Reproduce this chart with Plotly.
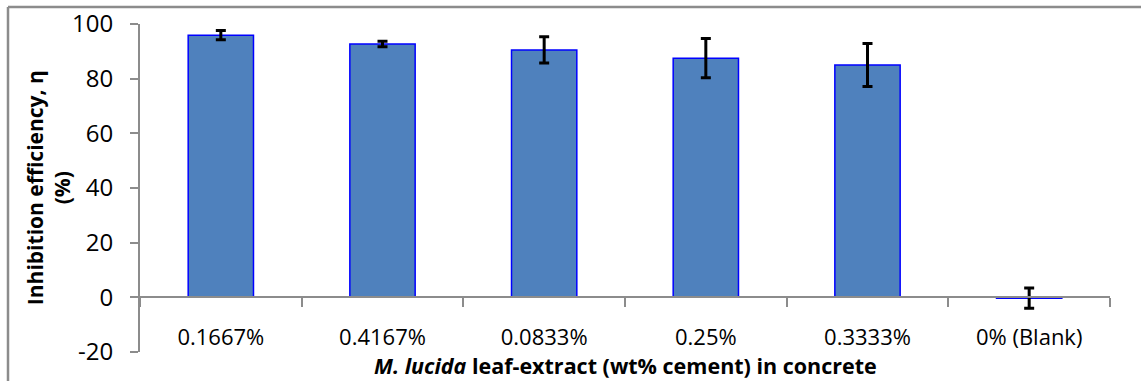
import plotly.graph_objects as go

categories = ["0.1667%", "0.4167%", "0.0833%", "0.25%", "0.3333%", "0% (Blank)"]
efficiency = [95.9, 92.7, 90.5, 87.5, 85.0, -0.3]
errors = [1.7, 1.0, 4.8, 7.2, 7.9, 3.7]
y_ticks = [-20, 0, 20, 40, 60, 80, 100]
y_tick_text = ["-20", "0", "20", "40", "60", "80", "100"]

FONT = "Open Sans"
GRAY = "#8c8c8c"

fig = go.Figure()
fig.add_trace(go.Bar(
    x=categories, y=efficiency,
    marker=dict(color="#4F81BD", line=dict(color="#0000FF", width=1.5)),
    error_y=dict(type="data", array=errors, visible=True, color="black", thickness=3, width=5),
))

L, R, T, B = 140, 31, 24, 29.3
W, H = 1141, 381
plot_h = H - T - B
plot_w = W - L - R
ymin, ymax = -20, 100
zero_frac = (0 - ymin) / (ymax - ymin)

fig.update_layout(
    width=W, height=H,
    margin=dict(l=L, r=R, t=T, b=B, pad=0, autoexpand=False),
    paper_bgcolor="white", plot_bgcolor="white",
    bargap=0.596, showlegend=False,
    font=dict(family=FONT, size=21, color="black"),
    xaxis=dict(
        type="category", anchor="free", position=zero_frac, automargin=False,
        showline=True, linecolor=GRAY, linewidth=2,
        ticks="outside", ticklen=9, tickwidth=2, tickcolor=GRAY,
        tickson="boundaries", ticklabelstandoff=20,
        tickfont=dict(family=FONT, size=22),
        showgrid=False, zeroline=False,
    ),
    yaxis=dict(
        range=[ymin, ymax], tickvals=y_ticks, ticktext=y_tick_text, automargin=False,
        showline=True, linecolor=GRAY, linewidth=2,
        ticks="outside", ticklen=8, tickwidth=2, tickcolor=GRAY,
        ticklabelstandoff=12,
        tickfont=dict(family=FONT, size=24),
        showgrid=False, zeroline=False,
    ),
    annotations=[
        dict(text="<b><i>M. lucida</i> leaf-extract (wt% cement) in concrete</b>",
             xref="paper", yref="paper", x=0.5, y=(H - 365 - B) / plot_h,
             xanchor="center", yanchor="middle", showarrow=False,
             font=dict(family=FONT, size=21.5)),
        dict(text="<b>Inhibition efficiency, η<br>(%)</b>",
             xref="paper", yref="paper", x=(48 - L) / plot_w, y=(H - B - 188) / plot_h,
             xanchor="center", yanchor="middle", showarrow=False, textangle=-90,
             font=dict(family=FONT, size=21)),
    ],
    shapes=[
        dict(type="line", xref="paper", yref="paper",
             x0=(8 - L) / plot_w, x1=(1200 - L) / plot_w,
             y0=(H - B - 7) / plot_h, y1=(H - B - 7) / plot_h,
             line=dict(color=GRAY, width=2.5)),
        dict(type="line", xref="paper", yref="paper",
             x0=(8 - L) / plot_w, x1=(8 - L) / plot_w,
             y0=(H - B - 7) / plot_h, y1=(H - B - 400) / plot_h,
             line=dict(color=GRAY, width=2.5)),
    ],
)

fig.write_html("out.html")
